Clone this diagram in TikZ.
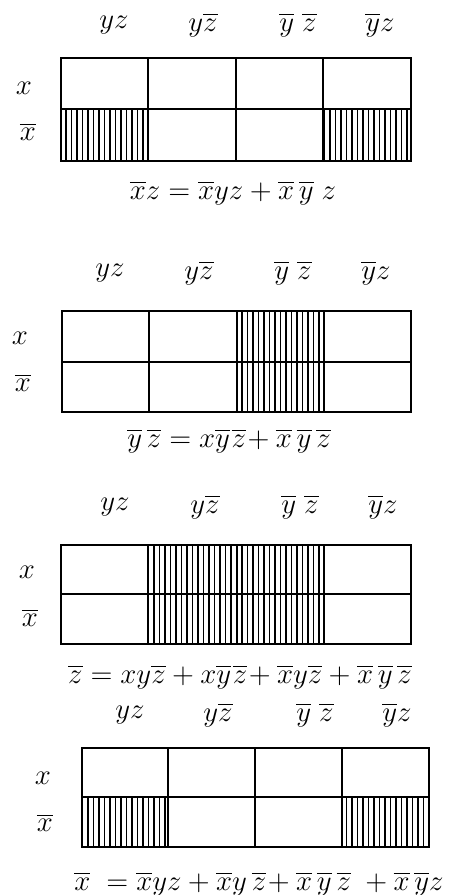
\documentclass[tikz,border=0pt]{standalone}
\usepackage{amsmath,amssymb}
\usepackage{tikz}
\usetikzlibrary{patterns.meta}

\begin{document}
\begin{tikzpicture}[
    x=0.5pt, y=-0.5pt,
    grid/.style={line width=1.1pt},
    hatch/.style={pattern={Lines[angle=90,distance=2.75pt,line width=0.6pt]}},
    lbl/.style={font=\fontsize{13.5}{16}\selectfont, inner sep=0pt},
  ]
  \useasboundingbox (0,0) rectangle (454,895);

  %% ---- map 1: xbar z ----
  \fill[hatch] (61,109) rectangle (148,161);
  \fill[hatch] (323,109) rectangle (411,161);
  \draw[grid] (61,58) rectangle (411,161);
  \draw[grid] (61,109) -- (411,109);
  \draw[grid] (148,58) -- (148,161) (236,58) -- (236,161) (323,58) -- (323,161);

  \node[lbl] (c1a) at (114,25) {$yz$};
  \node[lbl] (c1b) at (203,25) {$y\overline{z}$};
  \node[lbl] (c1c) at (298,25) {$\overline{y}\;\overline{z}$};
  \node[lbl] (c1d) at (380,25) {$\overline{y}z$};
  \node[lbl] (r1a) at (24,88)  {$x$};
  \node[lbl] (r1b) at (28,132) {$\overline{x}$};
  \node[lbl] (eq1) at (233,193)
    {$\overline{x}z = \overline{x}yz + \overline{x}\,\overline{y}\;z$};

  %% ---- map 2: ybar zbar ----
  \fill[hatch] (237,311) rectangle (324,412);
  \draw[grid] (62,311) rectangle (411,412);
  \draw[grid] (62,362) -- (411,362);
  \draw[grid] (149,311) -- (149,412) (237,311) -- (237,412) (324,311) -- (324,412);

  \node[lbl] (c2a) at (110,273) {$yz$};
  \node[lbl] (c2b) at (199,273) {$y\overline{z}$};
  \node[lbl] (c2c) at (293,273) {$\overline{y}\;\overline{z}$};
  \node[lbl] (c2d) at (376,273) {$\overline{y}z$};
  \node[lbl] (r2a) at (20,338) {$x$};
  \node[lbl] (r2b) at (23,383) {$\overline{x}$};
  \node[lbl] (eq2) at (229,441)
    {$\overline{y}\,\overline{z} = x\overline{y}\mkern1mu\overline{z}\!+ \overline{x}\,\overline{y}\,\overline{z}$};

  %% ---- map 3: zbar ----
  \fill[hatch] (148,545) rectangle (324,644);
  \draw[grid] (61,545) rectangle (411,644);
  \draw[grid] (61,594) -- (411,594);
  \draw[grid] (148,545) -- (148,644) (237,545) -- (237,644) (324,545) -- (324,644);

  \node[lbl] (c3a) at (115,507) {$yz$};
  \node[lbl] (c3b) at (205,507) {$y\overline{z}$};
  \node[lbl] (c3c) at (300,507) {$\overline{y}\;\overline{z}$};
  \node[lbl] (c3d) at (383,507) {$\overline{y}z$};
  \node[lbl] (r3a) at (27,572) {$x$};
  \node[lbl] (r3b) at (30,618) {$\overline{x}$};
  \node[lbl] (eq3) at (240,677)
    {$\overline{z} = xy\overline{z} + x\overline{y}\mkern1mu\overline{z}\!+ \overline{x}y\overline{z} + \overline{x}\,\overline{y}\,\overline{z}$};

  %% ---- map 4: xbar ----
  \fill[hatch] (82,797) rectangle (168,847);
  \fill[hatch] (342,797) rectangle (429,847);
  \draw[grid] (82,748) rectangle (429,847);
  \draw[grid] (82,797) -- (429,797);
  \draw[grid] (168,748) -- (168,847) (255,748) -- (255,847) (342,748) -- (342,847);

  \node[lbl] (c4a) at (130,715) {$yz$};
  \node[lbl] (c4b) at (218,715) {$y\overline{z}$};
  \node[lbl] (c4c) at (315,715) {$\overline{y}\;\overline{z}$};
  \node[lbl] (c4d) at (397,715) {$\overline{y}z$};
  \node[lbl] (r4a) at (43,778) {$x$};
  \node[lbl] (r4b) at (45,823) {$\overline{x}$};
  \node[lbl] (eq4) at (259,884)
    {$\overline{x} \;= \overline{x}yz + \overline{x}y\,\overline{z}\!+ \overline{x}\,\overline{y}\,\overline{z}\; + \overline{x}\,\overline{y}z$};

\end{tikzpicture}
\end{document}
